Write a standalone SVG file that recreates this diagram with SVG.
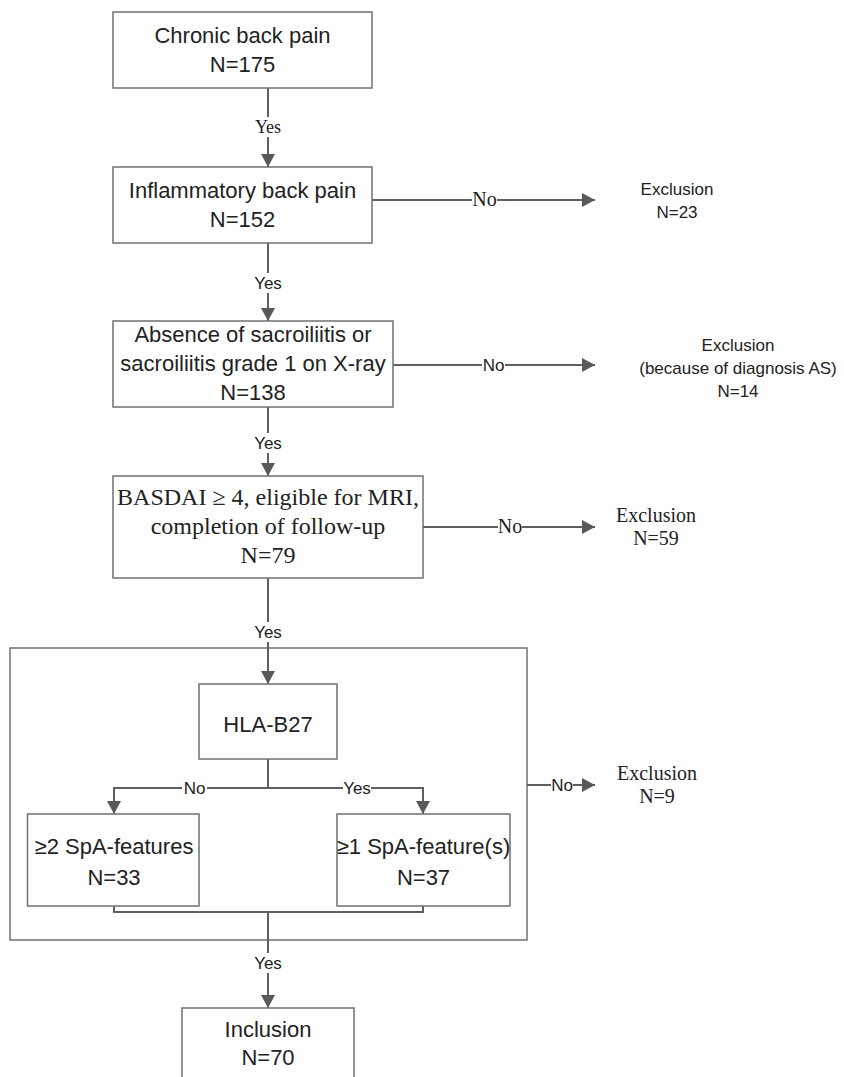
<svg xmlns="http://www.w3.org/2000/svg" width="844" height="1077" viewBox="0 0 844 1077">
<defs>
<marker id="ah" markerWidth="13" markerHeight="14" refX="13" refY="7" orient="auto" markerUnits="userSpaceOnUse">
<path d="M0,0 L13,7 L0,14 z" fill="#595959"/>
</marker>
<style>
.box{fill:#fff;stroke:#707070;stroke-width:1.5}
.ln{fill:none;stroke:#5f5f5f;stroke-width:2}
.ar{fill:none;stroke:#5f5f5f;stroke-width:2;marker-end:url(#ah)}
.s{font-family:"Liberation Sans",Arial,sans-serif;font-size:22px;fill:#222;text-anchor:middle}
.t{font-family:"Liberation Serif","Times New Roman",serif;font-size:24px;fill:#222;text-anchor:middle}
.ex{font-family:"Liberation Sans",Arial,sans-serif;font-size:17px;fill:#222;text-anchor:middle}
.ext{font-family:"Liberation Serif","Times New Roman",serif;font-size:20px;fill:#222;text-anchor:middle}
.ls{font-family:"Liberation Sans",Arial,sans-serif;font-size:17px;fill:#222;text-anchor:middle}
.lt{font-family:"Liberation Serif","Times New Roman",serif;font-size:19px;fill:#222;text-anchor:middle}
.bg{fill:#fff}
</style>
</defs>
<rect width="844" height="1077" fill="#fff"/>

<g id="container">
<rect x="10" y="648" width="517" height="292" class="box"/>
</g>

<g id="connectors">
<line x1="268" y1="88" x2="268" y2="167" class="ar"/>
<line x1="372" y1="200" x2="595" y2="200" class="ar"/>
<line x1="268" y1="243" x2="268" y2="321" class="ar"/>
<line x1="393" y1="365" x2="595" y2="365" class="ar"/>
<line x1="268" y1="407" x2="268" y2="476" class="ar"/>
<line x1="423" y1="527" x2="595" y2="527" class="ar"/>
<line x1="268" y1="578" x2="268" y2="684" class="ar"/>
<line x1="268" y1="759" x2="268" y2="788" class="ln"/>
<polyline points="268,788 114,788 114,814" class="ar"/>
<polyline points="268,788 423,788 423,814" class="ar"/>
<polyline points="114,906 114,912 423,912 423,906" class="ln"/>
<line x1="268" y1="912" x2="268" y2="1008" class="ar"/>
<line x1="527" y1="785" x2="595" y2="785" class="ar"/>

<rect x="253" y="117" width="30" height="20" class="bg"/>
<text x="268" y="133" class="lt" style="font-size:18px">Yes</text>
<rect x="472" y="190" width="25" height="20" class="bg"/>
<text x="484.5" y="206" class="lt" style="font-size:20px">No</text>
<rect x="253" y="273" width="30" height="20" class="bg"/>
<text x="268" y="289" class="ls">Yes</text>
<rect x="482" y="355" width="23" height="20" class="bg"/>
<text x="493.5" y="371" class="ls">No</text>
<rect x="253" y="433" width="30" height="20" class="bg"/>
<text x="268" y="449" class="ls">Yes</text>
<rect x="498" y="517" width="24" height="20" class="bg"/>
<text x="510" y="533" class="lt" style="font-size:20px">No</text>
<rect x="253" y="622" width="30" height="20" class="bg"/>
<text x="268" y="638" class="ls">Yes</text>
<rect x="182" y="778" width="25" height="20" class="bg"/>
<text x="194.5" y="794" class="ls">No</text>
<rect x="343" y="778" width="28" height="20" class="bg"/>
<text x="357" y="794" class="ls">Yes</text>
<rect x="551" y="775" width="22" height="20" class="bg"/>
<text x="562" y="791" class="ls">No</text>
<rect x="253" y="953" width="30" height="20" class="bg"/>
<text x="268" y="969" class="ls">Yes</text>
</g>

<g id="chronic">
<rect x="113" y="12" width="259" height="76" class="box"/>
<text x="242.5" y="43" class="s">Chronic back pain</text>
<text x="242.5" y="72" class="s">N=175</text>
</g>

<g id="inflammatory">
<rect x="113" y="167" width="259" height="76" class="box"/>
<text x="242.5" y="198" class="s">Inflammatory back pain</text>
<text x="242.5" y="227" class="s">N=152</text>
</g>

<g id="absence">
<rect x="113" y="321" width="280" height="86" class="box"/>
<text x="253" y="342" class="s">Absence of sacroiliitis or</text>
<text x="253" y="371" class="s">sacroiliitis grade 1 on X-ray</text>
<text x="253" y="400" class="s">N=138</text>
</g>

<g id="basdai">
<rect x="113" y="476" width="310" height="102" class="box"/>
<text x="268" y="505" class="t">BASDAI ≥ 4, eligible for MRI,</text>
<text x="268" y="534" class="t">completion of follow-up</text>
<text x="268" y="563" class="t">N=79</text>
</g>

<g id="hla">
<rect x="199" y="684" width="138" height="75" class="box"/>
<text x="268" y="732" class="s">HLA-B27</text>
</g>

<g id="spa2">
<rect x="27.5" y="814" width="171.5" height="92" class="box"/>
<text x="114" y="854" class="s">≥2 SpA-features</text>
<text x="114" y="885" class="s">N=33</text>
</g>

<g id="spa1">
<rect x="337" y="814" width="173" height="92" class="box"/>
<text x="423.5" y="854" class="s">≥1 SpA-feature(s)</text>
<text x="423.5" y="885" class="s">N=37</text>
</g>

<g id="inclusion">
<rect x="182" y="1008" width="172" height="80" class="box"/>
<text x="268" y="1037" class="s">Inclusion</text>
<text x="268" y="1065" class="s">N=70</text>
</g>

<g id="excl23">
<text x="677" y="195" class="ex">Exclusion</text>
<text x="677" y="218" class="ex">N=23</text>
</g>

<g id="excl14">
<text x="738" y="351" class="ex">Exclusion</text>
<text x="738" y="374" class="ex">(because of diagnosis AS)</text>
<text x="738" y="397" class="ex">N=14</text>
</g>

<g id="excl59">
<text x="656" y="522" class="ext">Exclusion</text>
<text x="656" y="545" class="ext">N=59</text>
</g>

<g id="excl9">
<text x="657" y="780" class="ext">Exclusion</text>
<text x="657" y="803" class="ext">N=9</text>
</g>
</svg>
